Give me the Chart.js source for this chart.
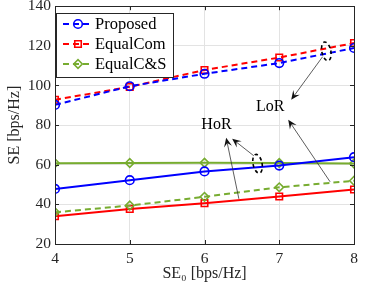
<!DOCTYPE html>
<html>
<head>
<meta charset="utf-8">
<script src="https://cdn.jsdelivr.net/npm/chart.js@4.4.1/dist/chart.umd.min.js"></script>
<style>
  html, body { margin: 0; padding: 0; background: #fff; }
  #wrap { width: 387px; height: 290px; }
</style>
</head>
<body>
<div id="wrap"><canvas id="chart"></canvas></div>
<script>
// --- Data ---
const seValues = [4, 5, 6, 7, 8];
const yTicks = [20, 40, 60, 80, 100, 120, 140];

// dashed = LoR, solid = HoR
const proposedLoR = [90.2, 99.6, 105.9, 111.3, 118.9];
const equalComLoR = [92.8, 99.3, 107.8, 114.1, 121.4];
const equalCSLoR  = [36.0, 39.4, 43.8, 48.6, 51.9];
const proposedHoR = [47.8, 52.2, 56.6, 59.6, 63.8];
const equalComHoR = [34.0, 37.7, 40.6, 44.0, 47.5];
const equalCSHoR  = [60.8, 60.9, 61.0, 60.9, 60.6];

const legendLabels = ['Proposed', 'EqualCom', 'EqualC&S'];

// annotations in data units
const ellipses = [
    { x: 7.63, y: 117.2 },
    { x: 6.71, y: 60.5 }
];
const arrows = [
    { from: [6.66, 64.5], to: [6.37, 73.1] },
    { from: [6.46, 42.8], to: [6.29, 73.6] },
    { from: [7.58, 114.5], to: [7.16, 92.8] },
    { from: [7.68, 51.4], to: [7.12, 82.7] }
];
const textNotes = [
    { text: 'HoR', x: 6.16, y: 80.4 },
    { text: 'LoR', x: 6.88, y: 89.4 }
];

const BLUE = '#0000ff';
const RED = '#ff0000';
const GREEN = '#77ac30';
const AXIS = '#262626';
const FONT = "'Liberation Serif', serif";

function pts(values) {
    return seValues.map((x, i) => ({ x: x, y: values[i] }));
}

function series(label, values, color, style, dashed, inLegend) {
    return {
        label: label,
        data: pts(values),
        borderColor: color,
        borderWidth: 2,
        borderDash: dashed ? [6, 4] : [],
        pointStyle: style,
        pointRadius: style === 'rect' ? 4.6 : 4.3,
        pointBorderWidth: 1.6,
        pointBorderColor: color,
        pointBackgroundColor: 'rgba(0,0,0,0)',
        fill: false,
        tension: 0,
        inLegend: inLegend
    };
}

const datasets = [
    series('Proposed', proposedLoR, BLUE, 'circle', true, true),
    series('EqualCom', equalComLoR, RED, 'rect', true, true),
    series('EqualC&S', equalCSLoR, GREEN, 'rectRot', true, true),
    series('Proposed HoR', proposedHoR, BLUE, 'circle', false, false),
    series('EqualCom HoR', equalComHoR, RED, 'rect', false, false),
    series('EqualC&S HoR', equalCSHoR, GREEN, 'rectRot', false, false)
];

// --- plugin: box, inward ticks, annotations, legend ---
const decorPlugin = {
    id: 'decor',
    afterDatasetsDraw(chart) {
        const ctx = chart.ctx;
        const a = chart.chartArea;
        const xs = chart.scales.x;
        const ys = chart.scales.y;

        ctx.save();
        // box
        ctx.strokeStyle = AXIS;
        ctx.lineWidth = 1;
        ctx.strokeRect(Math.round(a.left) + 0.5, Math.round(a.top) + 0.5,
            Math.round(a.right - a.left), Math.round(a.bottom - a.top));

        // inward ticks
        ctx.beginPath();
        seValues.forEach(v => {
            const px = Math.round(xs.getPixelForValue(v)) + 0.5;
            ctx.moveTo(px, a.bottom); ctx.lineTo(px, a.bottom - 4);
            ctx.moveTo(px, a.top); ctx.lineTo(px, a.top + 4);
        });
        yTicks.forEach(v => {
            const py = Math.round(ys.getPixelForValue(v)) + 0.5;
            ctx.moveTo(a.left, py); ctx.lineTo(a.left + 4, py);
            ctx.moveTo(a.right, py); ctx.lineTo(a.right - 4, py);
        });
        ctx.stroke();

        // dashed ellipses
        ctx.strokeStyle = '#000';
        ctx.lineWidth = 1.6;
        ctx.setLineDash([3.5, 3]);
        ellipses.forEach(e => {
            ctx.beginPath();
            ctx.ellipse(xs.getPixelForValue(e.x), ys.getPixelForValue(e.y), 4.5, 9.5, -0.2, 0, Math.PI * 2);
            ctx.stroke();
        });
        ctx.setLineDash([]);

        // arrows
        ctx.strokeStyle = '#333';
        ctx.fillStyle = '#111';
        ctx.lineWidth = 0.8;
        arrows.forEach(ar => {
            const x1 = xs.getPixelForValue(ar.from[0]), y1 = ys.getPixelForValue(ar.from[1]);
            const x2 = xs.getPixelForValue(ar.to[0]), y2 = ys.getPixelForValue(ar.to[1]);
            const ang = Math.atan2(y2 - y1, x2 - x1);
            const len = 9, half = 4;
            ctx.beginPath();
            ctx.moveTo(x1, y1);
            ctx.lineTo(x2 - Math.cos(ang) * 5, y2 - Math.sin(ang) * 5);
            ctx.stroke();
            // notched head
            const bx = x2 - Math.cos(ang) * len, by = y2 - Math.sin(ang) * len;
            const nx = x2 - Math.cos(ang) * len * 0.6, ny = y2 - Math.sin(ang) * len * 0.6;
            ctx.beginPath();
            ctx.moveTo(x2, y2);
            ctx.lineTo(bx + Math.sin(ang) * half, by - Math.cos(ang) * half);
            ctx.lineTo(nx, ny);
            ctx.lineTo(bx - Math.sin(ang) * half, by + Math.cos(ang) * half);
            ctx.closePath();
            ctx.fill();
        });

        // text notes
        ctx.fillStyle = '#000';
        ctx.font = '16px ' + FONT;
        ctx.textAlign = 'center';
        ctx.textBaseline = 'middle';
        textNotes.forEach(t => {
            ctx.fillText(t.text, xs.getPixelForValue(t.x), ys.getPixelForValue(t.y));
        });

        // legend
        const lx = 56.5, ly = 13.5, lw = 117, lh = 64;
        ctx.fillStyle = '#fff';
        ctx.fillRect(lx, ly, lw, lh);
        ctx.strokeStyle = AXIS;
        ctx.lineWidth = 1;
        ctx.strokeRect(lx, ly, lw, lh);
        const legendSets = chart.data.datasets.filter(d => d.inLegend);
        legendSets.forEach((d, i) => {
            const cy = 24 + i * 20;
            ctx.strokeStyle = d.borderColor;
            ctx.lineWidth = 2;
            ctx.setLineDash(d.borderDash);
            ctx.beginPath();
            ctx.moveTo(63, cy); ctx.lineTo(93, cy);
            ctx.stroke();
            ctx.setLineDash([]);
            ctx.lineWidth = d.pointBorderWidth;
            ctx.fillStyle = 'rgba(0,0,0,0)';
            Chart.helpers.drawPoint(ctx, {
                pointStyle: d.pointStyle, radius: d.pointRadius, rotation: 0, borderWidth: d.pointBorderWidth
            }, 78, cy);
            ctx.fillStyle = '#000';
            ctx.textAlign = 'left';
            ctx.font = '16.5px ' + FONT;
            ctx.fillText(legendLabels[i], 95, cy + 1);
        });
        ctx.restore();
    }
};

new Chart(document.getElementById('chart'), {
    type: 'line',
    data: { datasets: datasets },
    options: {
        responsive: true,
        maintainAspectRatio: false,
        animation: false,
        layout: { padding: { top: 6, right: 33, left: 0, bottom: 0 } },
        plugins: {
            legend: { display: false },
            tooltip: { enabled: false }
        },
        scales: {
            x: {
                type: 'linear',
                min: 4,
                max: 8,
                afterBuildTicks: s => { s.ticks = seValues.map(v => ({ value: v })); },
                afterFit: s => { s.height = 46; s.paddingLeft = 0; s.paddingRight = 0; },
                grid: { color: '#e3e3e3', drawTicks: false },
                border: { display: false },
                ticks: { color: AXIS, font: { family: FONT, size: 15.5 }, padding: 6, maxRotation: 0 },
                title: {
                    display: true,
                    text: 'SE\u2080 [bps/Hz]',
                    color: AXIS,
                    font: { family: FONT, size: 16 },
                    padding: { top: 0, bottom: 7 }
                }
            },
            y: {
                min: 20,
                max: 140,
                afterBuildTicks: s => { s.ticks = yTicks.map(v => ({ value: v })); },
                afterFit: s => { s.width = 55; s.paddingTop = 0; s.paddingBottom = 0; },
                grid: { color: '#e3e3e3', drawTicks: false },
                border: { display: false },
                ticks: { color: AXIS, font: { family: FONT, size: 15.5 }, padding: 4 },
                title: {
                    display: true,
                    text: 'SE [bps/Hz]',
                    color: AXIS,
                    font: { family: FONT, size: 16 },
                    padding: { top: 5, bottom: 0 }
                }
            }
        }
    },
    plugins: [decorPlugin]
});
</script>
</body>
</html>
